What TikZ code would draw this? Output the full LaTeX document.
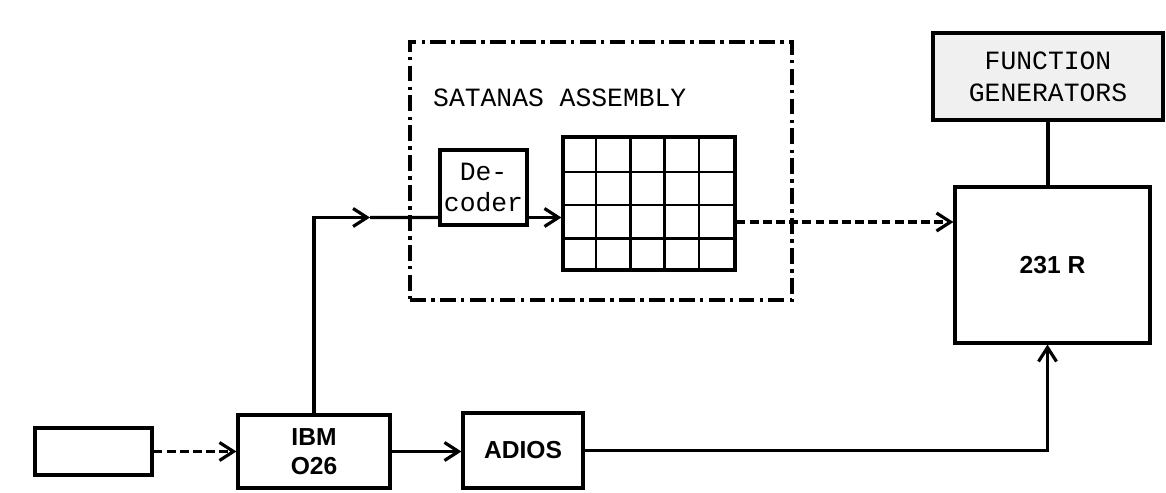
\documentclass[tikz,border=0pt]{standalone}
\usepackage{fontspec}
\newfontfamily\typefont{Liberation Mono}
\newfontfamily\labelfont{Liberation Sans}
\usetikzlibrary{positioning,arrows.meta}

\begin{document}
\begin{tikzpicture}[
  box/.style={draw, line width=1.8pt, align=center, inner sep=0pt},
  typed/.style={font=\typefont\fontsize{15}{18}\selectfont},
  printed/.style={font=\labelfont\bfseries\fontsize{14}{16.5}\selectfont},
  arrow/.style={-{Straight Barb[length=2.8mm,width=3.6mm]}, line width=1.8pt},
  dashedarrow/.style={arrow, dash pattern=on 5pt off 2.5pt},
  assembly/.style={draw, line width=1.8pt, dash pattern=on 9pt off 3pt on 2pt off 3pt}
]
\useasboundingbox (0,0) rectangle (23.32,9.84);

% satanas assembly
\node[assembly, minimum width=7.64cm, minimum height=5.16cm] (satanas) at (12.02,6.42) {};
\node[typed, anchor=west] (title) at (8.54,7.88) {SATANAS ASSEMBLY};
\node[box, typed, minimum width=1.74cm, minimum height=1.5cm] (dec) at (9.67,6.09) {De-\\coder};
\node[box, minimum width=3.44cm, minimum height=2.66cm] (grid) at (12.98,5.77) {};
\foreach \i in {1,...,4}
  \draw[line width=1.5pt] ([xshift=\i*0.688cm]grid.south west) -- ([xshift=\i*0.688cm]grid.north west);
\foreach \j in {1,2,3}
  \draw[line width=1.5pt] ([yshift=\j*0.665cm]grid.south west) -- ([yshift=\j*0.665cm]grid.south east);

% machines
\node[box, minimum width=2.34cm, minimum height=0.94cm] (tape) at (1.87,0.81) {};
\node[box, printed, minimum width=3.04cm, minimum height=1.46cm] (ibm) at (6.28,0.81) {IBM\\O26};
\node[box, printed, minimum width=2.4cm, minimum height=1.5cm] (adios) at (10.46,0.83) {ADIOS};
\node[box, printed, minimum width=3.9cm, minimum height=3.12cm] (cpu) at (21.05,4.54) {231 R};
\node[box, typed, fill=gray!12, minimum width=4.6cm, minimum height=1.74cm] (fgen) at (20.96,8.31) {FUNCTION\\GENERATORS};

% connections
\coordinate (busmark) at (7.4,5.49);
\draw[arrow] (ibm.north) |- (busmark);
\draw[line width=1.8pt] (busmark) -- ([yshift=-0.6cm]dec.west);
\coordinate (decout) at ([yshift=-0.6cm]dec.east);
\draw[arrow] (decout) -- (decout -| grid.west);
\coordinate (gridout) at ([yshift=-0.37cm]grid.east);
\draw[dashedarrow] (gridout) -- (gridout -| cpu.west);
\draw[dashedarrow] (tape.east) -- (ibm.west);
\draw[arrow] (ibm.east) -- (ibm.east -| adios.west);
\draw[arrow] (adios.east) -| ([xshift=-0.1cm]cpu.south);
\draw[line width=1.8pt] (fgen.south) -- (fgen.south |- cpu.north);
\end{tikzpicture}
\end{document}
